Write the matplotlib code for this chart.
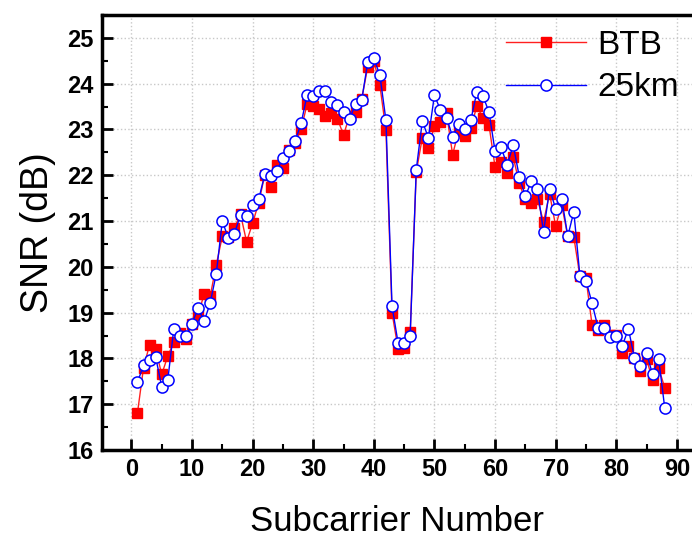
import numpy as np
import matplotlib.pyplot as plt
from matplotlib.ticker import MultipleLocator

subcarrier = np.arange(1, 89)

btb = [16.81, 17.80, 18.30, 18.20, 17.65, 18.05, 18.36, 18.56, 18.43, 18.75,
       18.94, 19.41, 19.36, 20.04, 20.67, 20.65, 20.85, 21.15, 20.55, 20.95,
       21.40, 22.00, 21.74, 22.23, 22.15, 22.56, 22.70, 23.00, 23.56, 23.52,
       23.45, 23.29, 23.36, 23.23, 22.88, 23.30, 23.38, 23.67, 24.37, 24.50,
       23.96, 22.98, 19.00, 18.21, 18.23, 18.57, 22.07, 22.82, 22.60, 23.07,
       23.16, 23.35, 22.45, 22.97, 22.85, 23.03, 23.51, 23.25, 23.10, 22.18,
       22.29, 22.05, 22.40, 21.82, 21.47, 21.40, 21.48, 20.98, 21.60, 20.89,
       21.35, 20.67, 20.65, 19.80, 19.76, 18.74, 18.63, 18.74, 18.52, 18.52,
       18.12, 18.27, 18.00, 17.72, 17.98, 17.53, 17.79, 17.36]

km25 = [17.48, 17.85, 17.96, 18.03, 17.38, 17.53, 18.65, 18.50, 18.50, 18.76,
        19.10, 18.81, 19.21, 19.85, 21.00, 20.62, 20.72, 21.14, 21.12, 21.35,
        21.47, 22.02, 21.98, 22.10, 22.37, 22.52, 22.74, 23.13, 23.76, 23.74,
        23.84, 23.84, 23.60, 23.54, 23.38, 23.23, 23.56, 23.64, 24.47, 24.56,
        24.18, 23.20, 19.14, 18.34, 18.34, 18.50, 22.12, 23.18, 22.82, 23.75,
        23.42, 23.26, 22.84, 23.11, 23.00, 23.20, 23.82, 23.73, 23.38, 22.53,
        22.61, 22.22, 22.66, 21.97, 21.54, 21.87, 21.69, 20.76, 21.70, 21.27,
        21.49, 20.67, 21.20, 19.81, 19.70, 19.21, 18.67, 18.67, 18.47, 18.49,
        18.27, 18.65, 18.01, 17.83, 18.11, 17.65, 17.99, 16.92]

tick_font = ['Liberation Sans Narrow', 'Liberation Sans', 'DejaVu Sans']
label_font = ['Liberation Sans', 'DejaVu Sans']

fig = plt.figure(figsize=(6.92, 5.38), dpi=100)
ax = fig.add_axes([0.147, 0.1636, 0.853, 0.8086])

ax.plot(subcarrier, btb, color='#ff2020', lw=1.0, marker='s', ms=7.5,
        mfc='red', mec='red', label='BTB', zorder=3)
ax.plot(subcarrier, km25, color='blue', lw=1.0, marker='o', ms=8,
        mfc='white', mec='blue', mew=1.1, label='25km', zorder=4)

ax.set_xlim(-4.9, 92.5)
ax.set_ylim(16, 25.5)
ax.xaxis.set_major_locator(MultipleLocator(10))
ax.xaxis.set_minor_locator(MultipleLocator(5))
ax.yaxis.set_major_locator(MultipleLocator(1))
ax.yaxis.set_minor_locator(MultipleLocator(0.5))

ax.grid(True, which='major', color='#c8c8c8', ls=':', lw=1.0)
ax.set_axisbelow(True)

for s in ['left', 'bottom', 'top']:
    ax.spines[s].set_linewidth(2.5)
ax.spines['right'].set_visible(False)

ax.tick_params(which='major', direction='in', length=8, width=2, pad=6)
ax.tick_params(which='minor', direction='in', length=4, width=1.5)
ax.tick_params(top=False, right=False, which='both')

for lab in ax.get_xticklabels() + ax.get_yticklabels():
    lab.set_family(tick_font)
    lab.set_fontweight('bold')
    lab.set_fontsize(17)

ax.set_xlabel('Subcarrier Number', family=label_font, fontsize=25, labelpad=17)
ax.set_ylabel('SNR (dB)', family=label_font, fontsize=27, labelpad=8)

ax.legend(loc='upper left', bbox_to_anchor=(0.645, 1.02), frameon=False,
          prop={'family': label_font, 'size': 24}, handlelength=2.4,
          handletextpad=0.35, labelspacing=0.35, borderpad=0.2)

fig.savefig('out.png', dpi=100)
